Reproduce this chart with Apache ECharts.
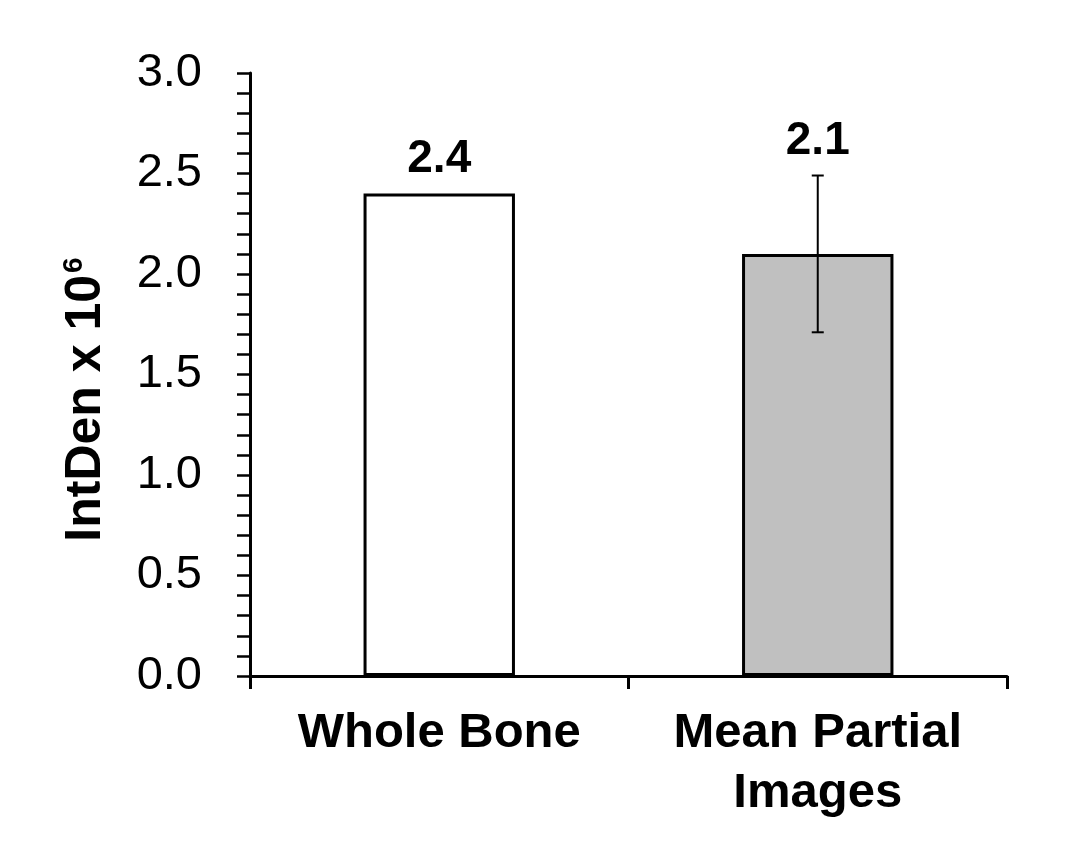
<!DOCTYPE html>
<html>
<head>
<meta charset="utf-8">
<script src="https://cdn.jsdelivr.net/npm/echarts@6/dist/echarts.min.js"></script>
<style>
  html, body { margin: 0; padding: 0; background: #fff; }
  #chart { width: 1091px; height: 841px; }
</style>
</head>
<body>
<div id="chart"></div>
<script>
// data
var categories = ['Whole Bone', 'Mean Partial\nImages'];
var values = [2.4, 2.1];
var errors = [0, 0.39];
var barColors = ['#ffffff', '#c0c0c0'];
var yTicks = { min: 0, max: 3, interval: 0.5 };

var FONT = '"Liberation Sans", Arial, sans-serif';

var chart = echarts.init(document.getElementById('chart'));

chart.setOption({
  animation: false,
  grid: { left: 250, right: 84, top: 73, bottom: 165 },
  xAxis: {
    type: 'category',
    data: categories,
    axisLine: { lineStyle: { color: '#000', width: 3 } },
    axisTick: { show: true, length: 13, lineStyle: { color: '#000', width: 3 } },
    axisLabel: {
      color: '#000', fontFamily: FONT, fontWeight: 'bold', fontSize: 49,
      lineHeight: 60, margin: 27, verticalAlign: 'top'
    }
  },
  yAxis: {
    type: 'value',
    min: yTicks.min, max: yTicks.max, interval: yTicks.interval,
    name: '{b|IntDen x 10}{s|6}',
    nameLocation: 'middle',
    nameGap: 138,
    nameTextStyle: {
      padding: [0, 50, 0, 0],
      rich: {
        b: { fontFamily: FONT, fontWeight: 'bold', fontSize: 50, color: '#000' },
        s: { fontFamily: FONT, fontWeight: 'bold', fontSize: 28, color: '#000', verticalAlign: 'top', padding: [0, 0, 24, 2] }
      }
    },
    axisLine: { show: true, lineStyle: { color: '#000', width: 3 } },
    axisTick: { show: true, length: 13, lineStyle: { color: '#000', width: 2.5 } },
    minorTick: { show: true, splitNumber: 5, length: 13, lineStyle: { color: '#000', width: 2.5 } },
    splitLine: { show: false },
    axisLabel: {
      color: '#000', fontFamily: FONT, fontSize: 47, margin: 48,
      formatter: function (v) { return v.toFixed(1); }
    }
  },
  series: [
    {
      type: 'bar',
      barWidth: '40%',
      data: values.map(function (v, i) {
        return { value: v, itemStyle: { color: barColors[i] } };
      }),
      itemStyle: { borderColor: '#000', borderWidth: 3 }
    },
    {
      type: 'custom',
      data: values.map(function (v, i) { return [i, v, errors[i]]; }),
      z: 10,
      renderItem: function (params, api) {
        var i = api.value(0), v = api.value(1), e = api.value(2);
        var top = api.coord([i, v + e]);
        var children = [];
        if (e > 0) {
          var bot = api.coord([i, v - e]);
          var cap = 6;
          var st = { stroke: '#000', lineWidth: 2 };
          children.push(
            { type: 'line', shape: { x1: top[0], y1: top[1], x2: bot[0], y2: bot[1] }, style: st },
            { type: 'line', shape: { x1: top[0] - cap, y1: top[1], x2: top[0] + cap, y2: top[1] }, style: st },
            { type: 'line', shape: { x1: bot[0] - cap, y1: bot[1], x2: bot[0] + cap, y2: bot[1] }, style: st }
          );
        }
        children.push({
          type: 'text',
          style: {
            x: top[0], y: top[1] - 34,
            text: v.toFixed(1),
            align: 'center', verticalAlign: 'middle',
            font: 'bold 46px ' + FONT,
            fill: '#000'
          }
        });
        return { type: 'group', children: children };
      }
    }
  ]
});
</script>
</body>
</html>
